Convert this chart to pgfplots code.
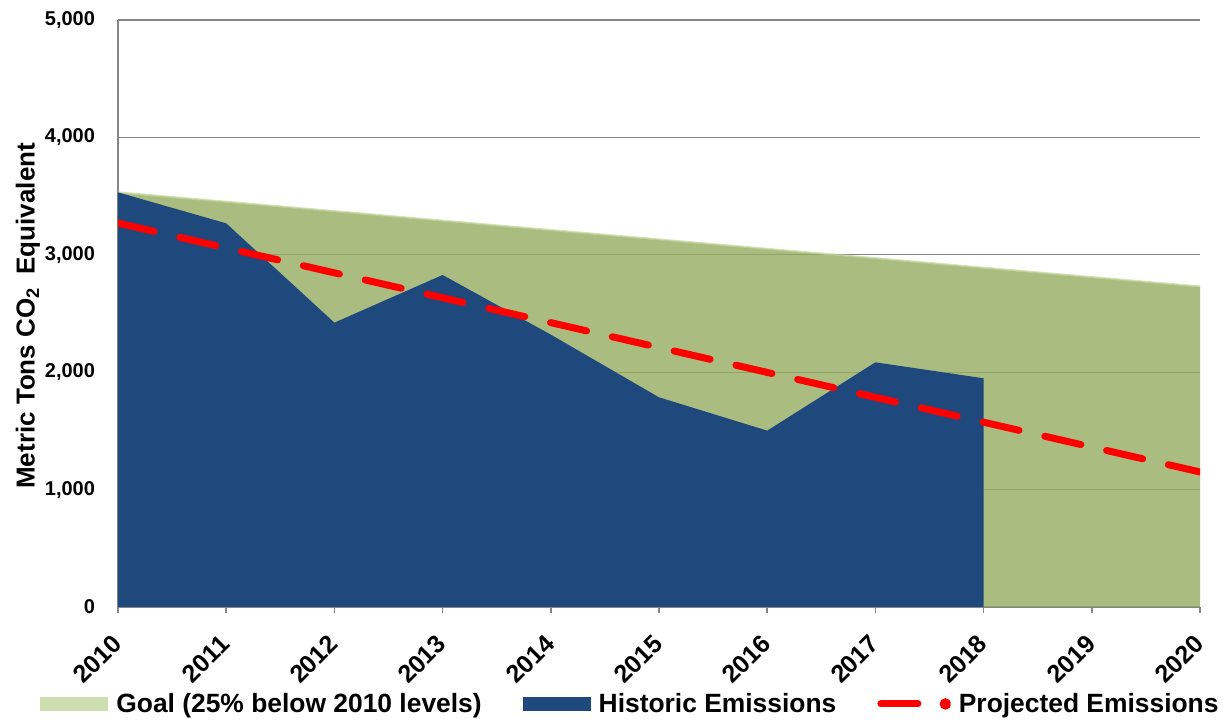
\documentclass[border=0pt]{standalone}
\usepackage{fontspec}
\setmainfont{Liberation Sans}
\usepackage{pgfplots}
\pgfplotsset{compat=1.18}
\definecolor{goalgreen}{RGB}{149,171,96}
\definecolor{legendgreen}{RGB}{195,214,155}
\definecolor{histblue}{RGB}{31,73,125}
\definecolor{axisgray}{RGB}{134,134,134}
\begin{document}
\begin{tikzpicture}
\begin{axis}[
  scale only axis, width=541pt, height=293.5pt,
  xmin=2010, xmax=2020, ymin=0, ymax=5000,
  axis lines*=left,
  axis line style={axisgray, line width=1pt},
  xtick={2010,2011,...,2020},
  xticklabels={2010,2011,2012,2013,2014,2015,2016,2017,2018,2019,2020},
  ytick={0,1000,...,5000},
  ymajorgrids,
  grid style={axisgray, line width=0.6pt},
  tick align=outside,
  major tick length=3pt,
  xtick style={axisgray, line width=0.8pt},
  ytick style={draw=none},
  yticklabel style={font=\fontsize{10}{12}\selectfont\bfseries, /pgf/number format/1000 sep={,}, /pgf/number format/assume math mode=true, xshift=-5pt},
  xticklabel style={font=\fontsize{12.5}{14}\selectfont\bfseries, xshift=2pt, yshift=-10.8pt, rotate=45, anchor=east},
  ylabel={Metric Tons CO\textsubscript{2}\hspace{0.5em}Equivalent},
  ylabel style={font=\fontsize{13}{15}\selectfont\bfseries, at={(axis description cs:-0.0832,0.496)}, anchor=center},
  legend style={draw=none, fill=none, at={(axis description cs:0.4727,-0.1652)}, anchor=center,
    font=\fontsize{13.2}{15}\selectfont\bfseries,
    nodes={inner sep=0pt},
    /tikz/every odd column/.append style={column sep=4pt},
    /tikz/every even column/.append style={column sep=20.5pt}},
  legend columns=3,
]
\addplot[draw=none, fill=goalgreen, fill opacity=0.8,
  legend image code/.code={\fill[legendgreen] (0pt,-3.5pt) rectangle (34pt,3.5pt);}]
  coordinates {(2010,3532) (2011,3452) (2012,3372) (2013,3291) (2014,3211) (2015,3131) (2016,3051) (2017,2971) (2018,2890) (2019,2810) (2020,2730)} \closedcycle;
\addlegendentry{Goal (25\% below 2010 levels)}
\addplot[draw=legendgreen, line width=1pt, draw opacity=0.7, forget plot]
  coordinates {(2010,3532) (2011,3452) (2012,3372) (2013,3291) (2014,3211) (2015,3131) (2016,3051) (2017,2971) (2018,2890) (2019,2810) (2020,2730)};
\addplot[draw=none, fill=histblue,
  legend image code/.code={\fill[histblue] (0pt,-3.5pt) rectangle (34pt,3.5pt);}]
  coordinates {(2010,3532) (2011,3268) (2012,2422) (2013,2828) (2014,2320) (2015,1786) (2016,1502) (2017,2084) (2018,1948)} \closedcycle;
\addlegendentry{Historic Emissions}
\addplot[red, line width=3.5pt, dash pattern=on 18.5pt off 13.2pt, line cap=round,
  legend image code/.code={\draw[red, line width=3.5pt, line cap=round] (1.25pt,0pt) -- (22pt,0pt); \fill[red] (33.5pt,0pt) circle (1pt);}]
  coordinates {(2010,3270) (2020,1150)};
\addlegendentry{Projected Emissions}
\path (rel axis cs:0,0) coordinate (SW) (rel axis cs:1,1) coordinate (NE);
\end{axis}
\pgfresetboundingbox
\useasboundingbox ([xshift=-59pt,yshift=-58pt]SW) rectangle ([xshift=14pt,yshift=10pt]NE);
\end{tikzpicture}
\end{document}
